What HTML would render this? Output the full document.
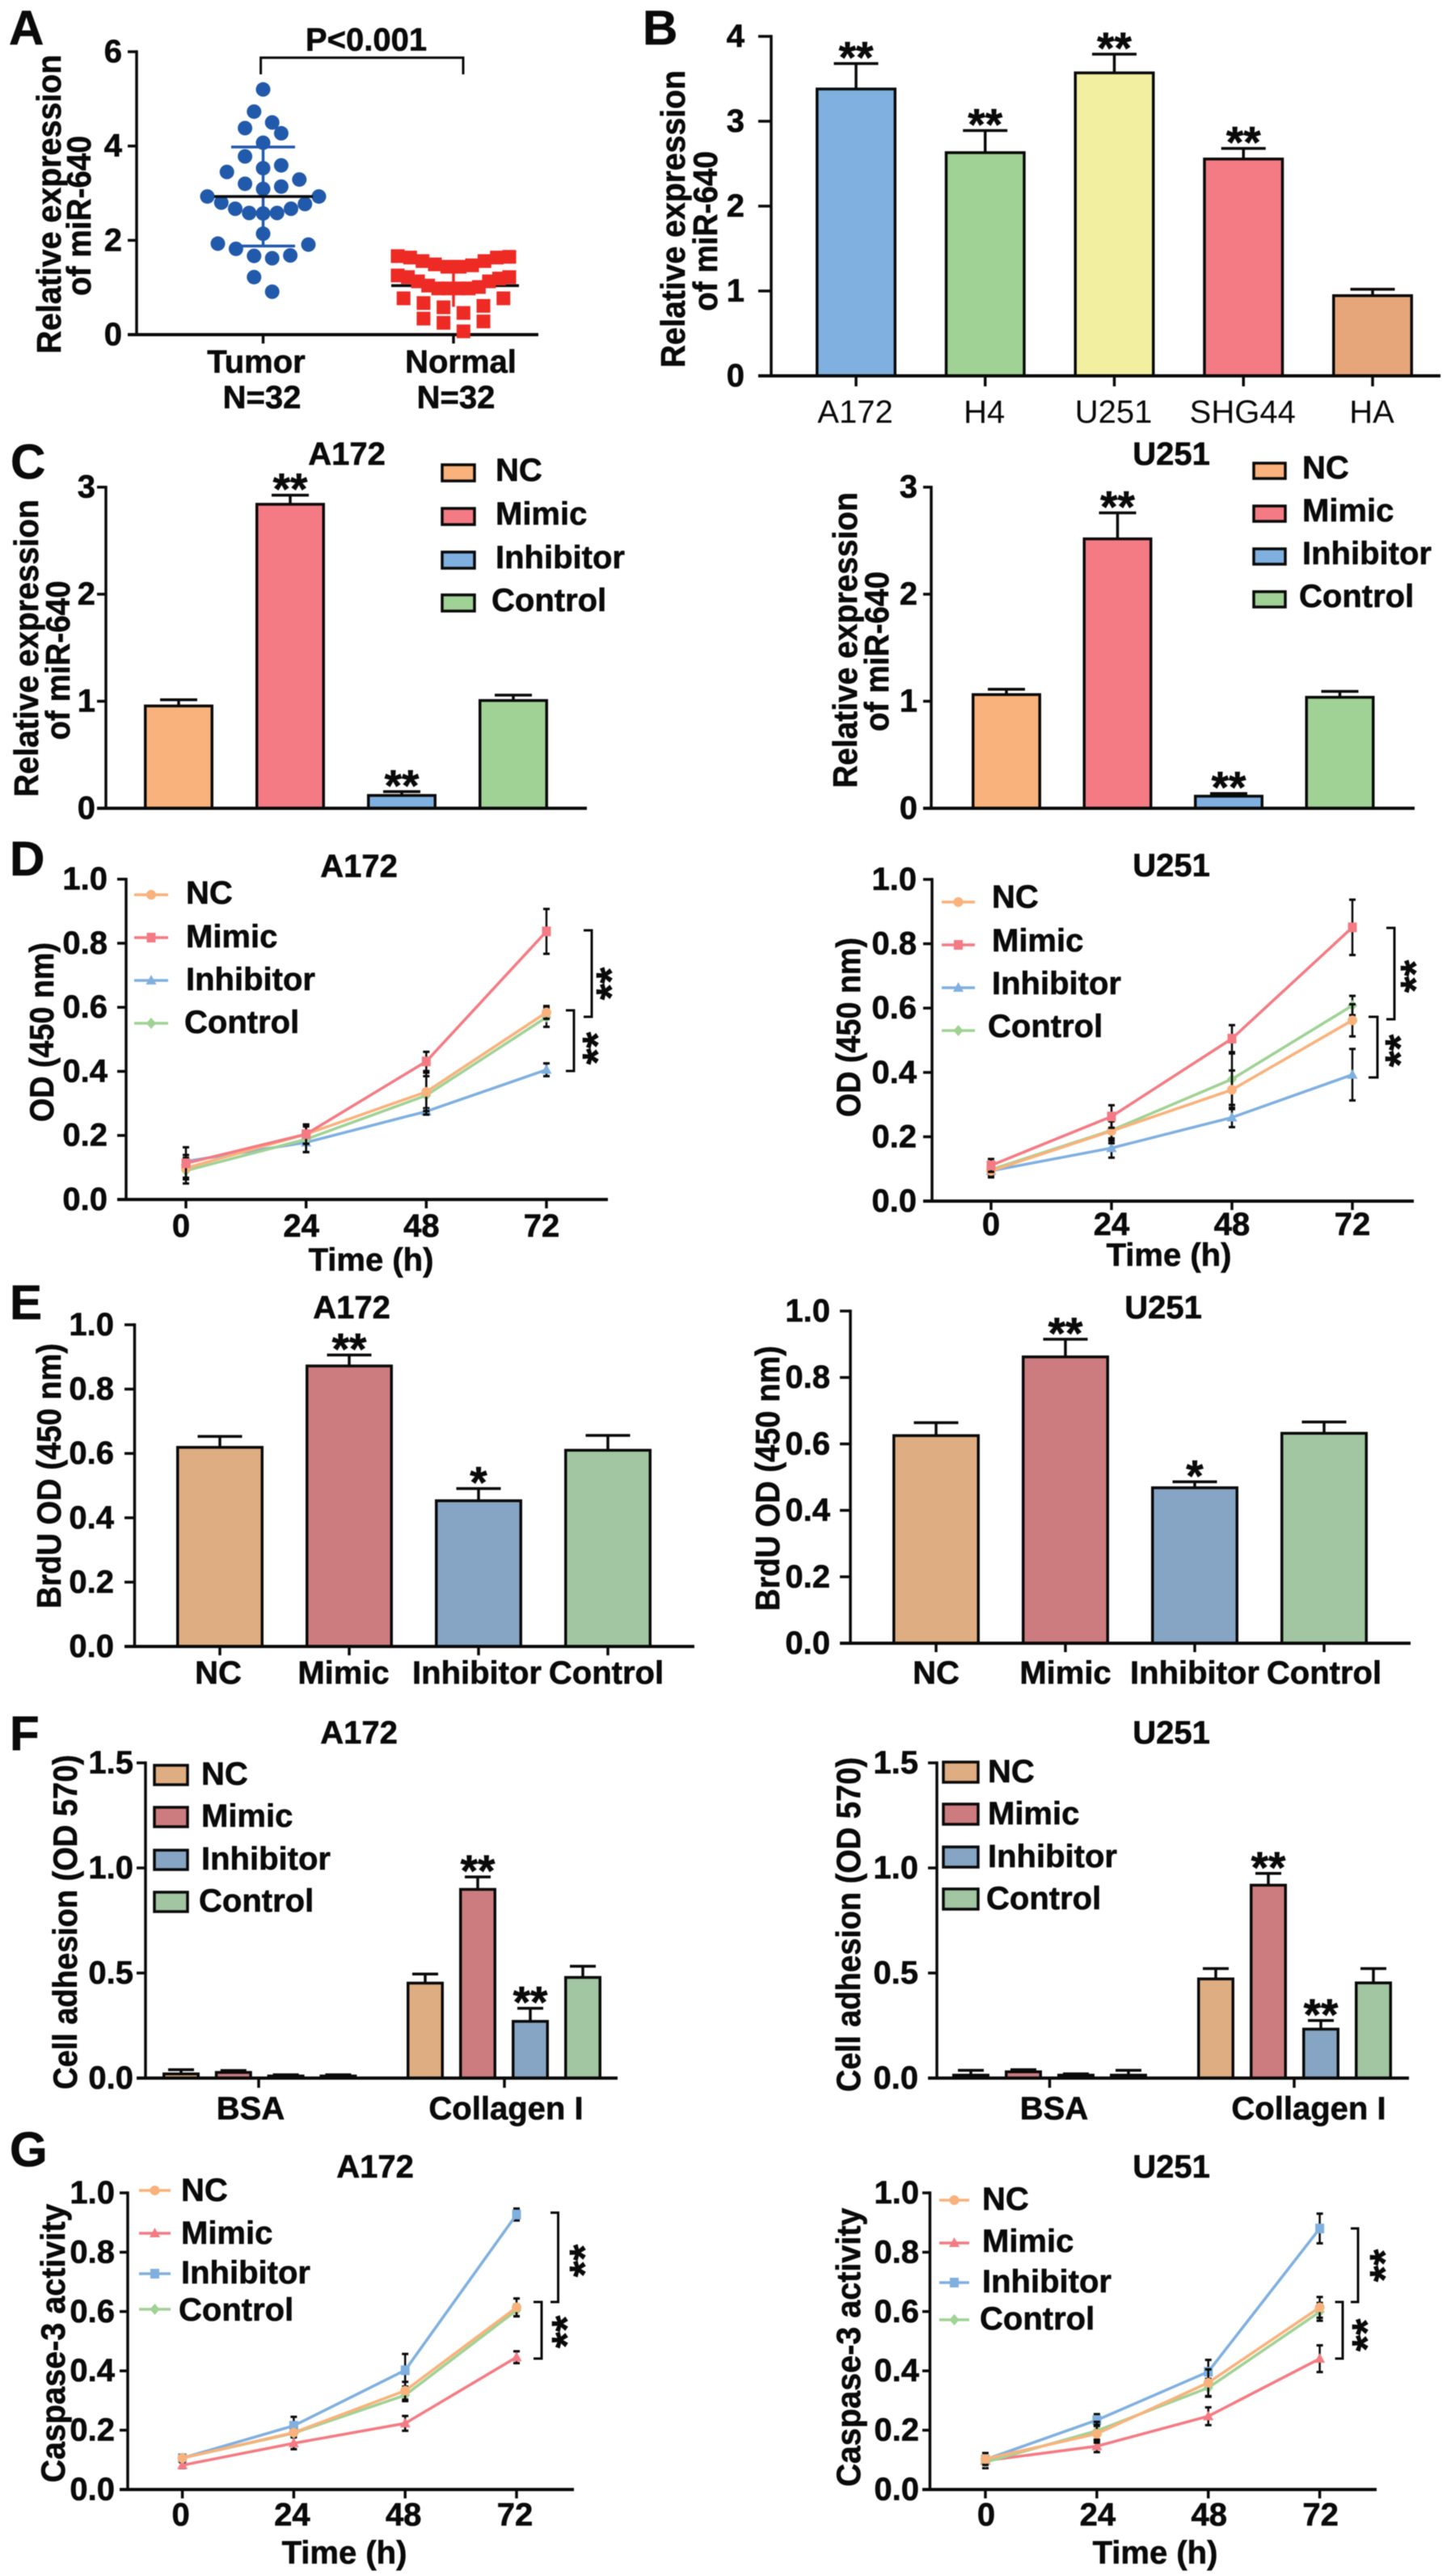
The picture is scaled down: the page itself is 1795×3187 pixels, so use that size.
<!DOCTYPE html>
<html lang="en">
<head>
<meta charset="utf-8">
<title>miR-640 expression figure</title>
<style>
html,body{margin:0;padding:0;background:#fff;}
svg{display:block;font-family:"Liberation Sans",Arial,sans-serif;filter:blur(.5px);}
</style>
</head>
<body>
<svg id="figure" xmlns="http://www.w3.org/2000/svg" width="1795" height="3187" viewBox="0 0 1795 3187">
<rect x="0" y="0" width="1795" height="3187" fill="#ffffff"></rect>
</svg>
<script>
// ---------- Shared labels ----------
const groupNames = ['NC', 'Mimic', 'Inhibitor', 'Control'];
const timeTicks = ['0', '24', '48', '72'];
const odTicks = ['0.0', '0.2', '0.4', '0.6', '0.8', '1.0'];
const adhesionTicks = ['0.0', '0.5', '1.0', '1.5'];
const exprTicksC = ['0', '1', '2', '3'];
const exprTicksB = ['0', '1', '2', '3', '4'];
const exprTicksA = ['0', '2', '4', '6'];

// ---------- Panel A ----------
const panelACategories = ['Tumor', 'Normal'];
const tumorValues = [5.2, 4.73, 4.5, 4.38, 4.27, 4.07, 3.78, 3.59, 3.53, 3.45, 3.29, 3.2, 3.14, 3.09, 2.93, 2.93, 2.8, 2.77, 2.67, 2.67, 2.58, 2.58, 2.57, 2.14, 1.93, 1.91, 1.82, 1.68, 1.67, 1.62, 1.22, 0.91];
const normalValues = [1.665, 1.65, 1.635, 1.635, 1.56, 1.56, 1.49, 1.47, 1.44, 1.44, 1.255, 1.22, 1.22, 1.19, 1.13, 1.13, 1.04, 1.01, 0.98, 0.98, 0.98, 0.98, 0.77, 0.77, 0.67, 0.61, 0.58, 0.46, 0.34, 0.28, 0.25, 0.07];
const tumorMean = 2.93;
const tumorSd = 1.05;
const normalMean = 1.04;
const normalSd = 0.45;

// ---------- Panel B ----------
const panelBCategories = ['A172', 'H4', 'U251', 'SHG44', 'HA'];
const panelBValues = [3.38, 2.63, 3.57, 2.555, 0.945];
const panelBErrors = [0.30, 0.26, 0.22, 0.125, 0.075];
const panelBStars = ['**', '**', '**', '**', ''];

// ---------- Panel C ----------
const cA172Values = [0.956, 2.84, 0.12, 1.007];
const cA172Errors = [0.058, 0.085, 0.036, 0.05];
const cU251Values = [1.062, 2.517, 0.113, 1.037];
const cU251Errors = [0.05, 0.243, 0.025, 0.055];
const cStars = ['', '**', '**', ''];

// ---------- Panel D ----------
const dA172NC = [0.098, 0.204, 0.336, 0.584];
const dA172Mimic = [0.113, 0.204, 0.431, 0.837];
const dA172Inhibitor = [0.119, 0.178, 0.275, 0.405];
const dA172Control = [0.09, 0.188, 0.325, 0.569];
const dA172NCErr = [0.03, 0.03, 0.06, 0.02];
const dA172MimicErr = [0.05, 0.03, 0.03, 0.07];
const dA172InhibitorErr = [0.02, 0.03, 0.01, 0.02];
const dA172ControlErr = [0.04, 0.04, 0.06, 0.03];
const dU251NC = [0.094, 0.218, 0.346, 0.562];
const dU251Mimic = [0.111, 0.263, 0.505, 0.851];
const dU251Inhibitor = [0.094, 0.165, 0.26, 0.393];
const dU251Control = [0.098, 0.22, 0.379, 0.608];
const dU251NCErr = [0.02, 0.03, 0.06, 0.05];
const dU251MimicErr = [0.02, 0.035, 0.042, 0.086];
const dU251InhibitorErr = [0.02, 0.03, 0.03, 0.08];
const dU251ControlErr = [0.02, 0.04, 0.08, 0.03];

// ---------- Panel E ----------
const eA172Values = [0.619, 0.872, 0.453, 0.61];
const eA172Errors = [0.034, 0.034, 0.038, 0.046];
const eU251Values = [0.625, 0.862, 0.468, 0.632];
const eU251Errors = [0.039, 0.053, 0.018, 0.034];
const eStars = ['', '**', '*', ''];

// ---------- Panel F ----------
const fCategories = ['BSA', 'Collagen I'];
const fA172BsaValues = [0.02, 0.027, 0.01, 0.01];
const fA172BsaErrors = [0.02, 0.009, 0.006, 0.006];
const fA172CollagenValues = [0.452, 0.898, 0.27, 0.479];
const fA172CollagenErrors = [0.043, 0.059, 0.062, 0.053];
const fU251BsaValues = [0.014, 0.03, 0.014, 0.014];
const fU251BsaErrors = [0.023, 0.01, 0.006, 0.023];
const fU251CollagenValues = [0.472, 0.918, 0.233, 0.453];
const fU251CollagenErrors = [0.049, 0.056, 0.041, 0.068];
const fBsaStars = ['', '', '', ''];
const fCollagenStars = ['', '**', '**', ''];

// ---------- Panel G ----------
const gA172NC = [0.106, 0.192, 0.333, 0.614];
const gA172Mimic = [0.082, 0.156, 0.223, 0.446];
const gA172Inhibitor = [0.106, 0.215, 0.402, 0.927];
const gA172Control = [0.106, 0.19, 0.318, 0.604];
const gA172NCErr = [0.01, 0.01, 0.03, 0.03];
const gA172MimicErr = [0.01, 0.02, 0.025, 0.02];
const gA172InhibitorErr = [0.01, 0.03, 0.055, 0.02];
const gA172ControlErr = [0.01, 0.01, 0.02, 0.02];
const gU251NC = [0.103, 0.188, 0.36, 0.614];
const gU251Mimic = [0.097, 0.146, 0.247, 0.441];
const gU251Inhibitor = [0.101, 0.234, 0.397, 0.88];
const gU251Control = [0.092, 0.198, 0.343, 0.599];
const gU251NCErr = [0.02, 0.03, 0.045, 0.035];
const gU251MimicErr = [0.01, 0.02, 0.03, 0.045];
const gU251InhibitorErr = [0.01, 0.02, 0.04, 0.05];
const gU251ControlErr = [0.02, 0.03, 0.03, 0.03];

// ---------- Palettes ----------
const brightColors = ['#F9B27B', '#F47B83', '#7FB0E0', '#A0D295'];
const mutedColors = ['#DFAD82', '#CC7C7E', '#86A5C4', '#A2C5A2'];
const panelBColors = ['#7FB0E0', '#A0D295', '#F2EFA0', '#F47B83', '#E6A679'];

// ---------- Primitives ----------
const root = document.getElementById('figure');
const NS = root.namespaceURI;
const STROKE = 3.5;

function mk(tag, parent, geometry) {
  const e = document.createElementNS(NS, tag);
  for (const k in geometry) e.setAttribute(k, geometry[k]);
  parent.appendChild(e);
  return e;
}
function linear(d0, d1, r0, r1) {
  return function (v) { return r0 + (v - d0) / (d1 - d0) * (r1 - r0); };
}
function group(name) {
  const g = mk('g', root, {});
  
  
  return g;
}
function drawLine(parent, x1, y1, x2, y2, width, color, name) {
  const l = mk('line', parent, { x1: x1, y1: y1, x2: x2, y2: y2, stroke: color, 'stroke-width': width });
  
  
  return l;
}
function drawText(parent, x, y, str, size, anchor, weight, rot, name, length) {
  const t = mk('text', parent, { x: x, y: y, 'font-size': size, 'text-anchor': anchor, 'font-weight': weight, fill: '#0a0a0a' });
  if (weight === 'bold') {
    t.setAttribute('stroke', '#0a0a0a');
    t.setAttribute('stroke-width', '0.6');
  }
  if (rot) t.setAttribute('transform', 'rotate(' + rot + ' ' + x + ' ' + y + ')');
  if (length) {
    t.setAttribute('textLength', length);
    t.setAttribute('lengthAdjust', 'spacingAndGlyphs');
  }
  t.textContent = str;
  
  
  return t;
}
function drawStars(parent, x, bottom, str) {
  if (!str) return;
  drawText(parent, x, bottom + 21, str, 55, 'middle', 'bold', 0, 'significance-stars');
}
function drawStarsVertical(parent, right, yc, str) {
  drawText(parent, right + 19, yc, str, 52, 'middle', 'bold', -90, 'significance-stars');
}
function drawBracket(parent, tipX, x, y1, y2) {
  const p = mk('path', parent, { d: 'M' + tipX + ' ' + y1 + 'H' + x + 'V' + y2 + 'H' + tipX, fill: 'none', stroke: '#0a0a0a', 'stroke-width': 3 });
  
  
}
function drawYAxis(parent, a, yScale, ticks) {
  const top = yScale(parseFloat(ticks[ticks.length - 1]));
  const base = yScale(parseFloat(ticks[0]));
  drawLine(parent, a.x, top - STROKE / 2, a.x, base, STROKE, '#0a0a0a', 'y-axis');
  drawLine(parent, a.left, base, a.end, base, STROKE + 0.5, '#0a0a0a', 'x-axis');
  ticks.forEach(function (label) {
    const y = yScale(parseFloat(label));
    drawLine(parent, a.left, y, a.x, y, STROKE, '#0a0a0a', 'y-tick');
    drawText(parent, a.labelRight, y + 13, label, 40, 'end', 'bold', 0, 'y-tick-label');
  });
}
function drawYTitle(parent, lines) {
  lines.forEach(function (l) {
    drawText(parent, l.x, l.y, l.text, 42, 'middle', 'bold', -90, 'y-axis-title', l.len);
  });
}
function drawXTick(parent, x, y0, y1) {
  drawLine(parent, x, y0, x, y1, STROKE, '#0a0a0a', 'x-tick');
}
function drawBar(parent, cx, width, capW, yScale, value, error, color, name) {
  const top = yScale(value);
  const base = yScale(0);
  const hiY = yScale(value + error);
  drawLine(parent, cx, top, cx, hiY, STROKE, '#0a0a0a', name + '-error-bar');
  drawLine(parent, cx - capW / 2, hiY, cx + capW / 2, hiY, STROKE, '#0a0a0a', name + '-error-cap');
  const r = mk('rect', parent, { x: cx - width / 2 + STROKE / 2, y: top, width: width - STROKE, height: Math.max(0, base - top), fill: color, stroke: '#0a0a0a', 'stroke-width': STROKE });
  
  
}
function drawBars(parent, xOf, width, capW, yScale, values, errors, stars, colors, names) {
  values.forEach(function (v, i) {
    drawBar(parent, xOf(i), width, capW, yScale, v, errors[i], colors[i], 'bar-' + names[i].toLowerCase());
    drawStars(parent, xOf(i), yScale(v + errors[i]) - 10, stars[i]);
  });
}
function drawBarLegend(parent, c, colors) {
  groupNames.forEach(function (n, i) {
    const s = mk('rect', parent, { x: c.x, y: c.rows[i], width: c.w, height: c.h, fill: colors[i], stroke: '#0a0a0a', 'stroke-width': 3.5 });
    
    
    const lx = n === 'Control' ? c.controlX : c.labelX;
    drawText(parent, lx, c.rows[i] + c.h + (c.dy || 0), n, 40, 'start', 'bold', 0, 'legend-label-' + n.toLowerCase());
  });
}
function drawMarker(parent, shape, x, y, color, name) {
  let m;
  if (shape === 'circle') {
    m = mk('circle', parent, { cx: x, cy: y, r: 6, fill: color });
  } else if (shape === 'square') {
    m = mk('rect', parent, { x: x - 5.5, y: y - 6, width: 11, height: 12, fill: color });
  } else if (shape === 'triangle') {
    m = mk('path', parent, { d: 'M' + x + ' ' + (y - 7) + 'L' + (x + 6.5) + ' ' + (y + 5) + 'L' + (x - 6.5) + ' ' + (y + 5) + 'Z', fill: color });
  } else {
    m = mk('path', parent, { d: 'M' + x + ' ' + (y - 7) + 'L' + (x + 6) + ' ' + y + 'L' + x + ' ' + (y + 7) + 'L' + (x - 6) + ' ' + y + 'Z', fill: color });
  }
  
  
}
function drawSeries(parent, s, xScale, yScale) {
  const pts = s.values.map(function (v, i) {
    return xScale(parseFloat(timeTicks[i])) + ',' + yScale(v);
  }).join(' ');
  s.values.forEach(function (v, i) {
    const x = xScale(parseFloat(timeTicks[i]));
    const hi = yScale(v + s.errors[i]);
    const lo = yScale(v - s.errors[i]);
    drawLine(parent, x, hi, x, lo, 2.5, '#0a0a0a', 'error-bar-' + s.name.toLowerCase());
    drawLine(parent, x - 4, hi, x + 4, hi, 3, '#0a0a0a', 'error-cap-' + s.name.toLowerCase());
    drawLine(parent, x - 4, lo, x + 4, lo, 3, '#0a0a0a', 'error-cap-' + s.name.toLowerCase());
  });
  const line = mk('polyline', parent, { points: pts, fill: 'none', stroke: s.color, 'stroke-width': 3.5, 'stroke-linejoin': 'round' });
  
  
  s.values.forEach(function (v, i) {
    drawMarker(parent, s.shape, xScale(parseFloat(timeTicks[i])), yScale(v), s.color, 'point-' + s.name.toLowerCase());
  });
}
function drawLineLegend(parent, c, shapes) {
  groupNames.forEach(function (n, i) {
    drawLine(parent, c.x1, c.rows[i], c.x2, c.rows[i], 3.5, brightColors[i], 'legend-line-' + n.toLowerCase());
    drawMarker(parent, shapes[i], (c.x1 + c.x2) / 2, c.rows[i], brightColors[i], 'legend-marker-' + n.toLowerCase());
    const lx = n === 'Control' ? c.controlX : c.labelX;
    drawText(parent, lx, c.baselines[i], n, 40, 'start', 'bold', 0, 'legend-label-' + n.toLowerCase());
  });
}
function linePanel(cfg) {
  const g = group(cfg.name);
  const yScale = linear(0, 1, cfg.base, cfg.top);
  const xScale = linear(0, 72, cfg.x0, cfg.x72);
  drawYAxis(g, cfg.axis, yScale, odTicks);
  timeTicks.forEach(function (t) {
    const x = xScale(parseFloat(t));
    drawXTick(g, x, cfg.base, cfg.base + 11);
    drawText(g, x + cfg.tickShift, cfg.tickBaseline, t, 40, 'middle', 'bold', 0, 'x-tick-label');
  });
  cfg.series.forEach(function (s) { drawSeries(g, s, xScale, yScale); });
  drawLineLegend(g, cfg.legend, cfg.shapes);
  drawText(g, cfg.titleX, cfg.titleY, cfg.title, 40, 'middle', 'bold', 0, 'panel-title');
  drawText(g, cfg.timeX, cfg.timeY, 'Time (h)', 40, 'middle', 'bold', 0, 'x-axis-title');
  drawYTitle(g, cfg.yTitle);
  cfg.brackets.forEach(function (b) {
    drawBracket(g, b.tip, b.x, b.y1, b.y2);
    drawStarsVertical(g, b.starRight, b.starY, '**');
  });
}
function binnedSwarm(values, cfg) {
  const bins = {};
  values.forEach(function (v, i) {
    const b = Math.floor((Math.max(v, cfg.floor) - cfg.offset) / cfg.width);
    (bins[b] = bins[b] || []).push(i);
  });
  const out = values.map(function () { return 0; });
  Object.keys(bins).forEach(function (b) {
    const idx = bins[b].slice().sort(function (p, q) { return values[q] - values[p]; });
    const n = idx.length;
    const step = n > 1 ? Math.min(cfg.maxStep, cfg.maxSpan / (n - 1)) : 0;
    let left = 0;
    let right = n - 1;
    idx.forEach(function (id, k) {
      const slot = k % 2 === 0 ? left++ : right--;
      out[id] = (slot - (n - 1) / 2) * step;
    });
  });
  return out;
}

// ---------- Panel letters ----------
(function () {
  const g = group('panel-letters');
  drawText(g, 11, 55, 'A', 60, 'start', 'bold', 0, 'panel-letter-a');
  drawText(g, 795, 55, 'B', 60, 'start', 'bold', 0, 'panel-letter-b');
  drawText(g, 13, 592, 'C', 60, 'start', 'bold', 0, 'panel-letter-c');
  drawText(g, 12, 1083, 'D', 60, 'start', 'bold', 0, 'panel-letter-d');
  drawText(g, 12, 1632, 'E', 60, 'start', 'bold', 0, 'panel-letter-e');
  drawText(g, 12, 2165, 'F', 60, 'start', 'bold', 0, 'panel-letter-f');
  drawText(g, 12, 2680, 'G', 60, 'start', 'bold', 0, 'panel-letter-g');
})();

// ---------- Panel A draw ----------
(function () {
  const g = group('panel-a-scatter');
  const yScale = linear(0, 6, 414, 64);
  const tumorX = 325.5;
  const normalX = 561;
  drawYAxis(g, { x: 169, left: 158, end: 666, labelRight: 151 }, yScale, exprTicksA);
  drawXTick(g, tumorX, 414, 425);
  drawXTick(g, normalX, 414, 425);
  drawYTitle(g, [
    { x: 75, y: 252.6, text: 'Relative expression', len: 370 },
    { x: 112, y: 267, text: 'of miR-640', len: 198 }
  ]);
  drawText(g, 317, 461, panelACategories[0], 40, 'middle', 'bold', 0, 'x-tick-label');
  drawText(g, 570, 461, panelACategories[1], 40, 'middle', 'bold', 0, 'x-tick-label');
  drawText(g, 324, 505, 'N=32', 40, 'middle', 'bold', 0, 'x-sample-size');
  drawText(g, 564, 505, 'N=32', 40, 'middle', 'bold', 0, 'x-sample-size');
  drawText(g, 453, 62.5, 'P<0.001', 40, 'middle', 'bold', 0, 'p-value-label');
  const b = mk('path', g, { d: 'M322.6 92V71.4H573V92', fill: 'none', stroke: '#0a0a0a', 'stroke-width': 3 });
  
  

  drawLine(g, tumorX, yScale(tumorMean + tumorSd), tumorX, yScale(tumorMean - tumorSd), 3.5, '#2159AB', 'tumor-sd-line');
  drawLine(g, 286, yScale(tumorMean + tumorSd), 365, yScale(tumorMean + tumorSd), 3.5, '#2159AB', 'tumor-sd-cap');
  drawLine(g, 286, yScale(tumorMean - tumorSd), 365, yScale(tumorMean - tumorSd), 3.5, '#2159AB', 'tumor-sd-cap');
  drawLine(g, normalX, yScale(normalMean + normalSd), normalX, yScale(normalMean - normalSd), 3.5, '#EE2A24', 'normal-sd-line');
  drawLine(g, 484, yScale(normalMean), 642, yScale(normalMean), 3.5, '#0a0a0a', 'normal-mean-line');

  const tumorOffsets = binnedSwarm(tumorValues, { width: 0.5, offset: 0, floor: 1, maxStep: 22.4, maxSpan: 138 });
  tumorValues.forEach(function (v, i) {
    const c = mk('circle', g, { cx: tumorX + tumorOffsets[i], cy: yScale(v), r: 9, fill: '#2159AB' });
    
    
  });
  const normalOffsets = binnedSwarm(normalValues, { width: 0.5, offset: 0.4, floor: 0, maxStep: 24.7, maxSpan: 138 });
  normalValues.forEach(function (v, i) {
    const s = mk('rect', g, { x: normalX + normalOffsets[i] - 8.5, y: yScale(v) - 8.5, width: 17, height: 17, fill: '#EE2A24' });
    
    
  });
  drawLine(g, 265, yScale(tumorMean), 387, yScale(tumorMean), 3.5, '#0a0a0a', 'tumor-mean-line');
})();

// ---------- Panel B draw ----------
(function () {
  const g = group('panel-b-bars');
  const yScale = linear(0, 4, 465, 45);
  const xOf = function (i) { return 1059 + i * 159.75; };
  drawBars(g, xOf, 100, 55, yScale, panelBValues, panelBErrors, panelBStars, panelBColors, panelBCategories);
  drawYAxis(g, { x: 954, left: 938, end: 1782, labelRight: 921 }, yScale, exprTicksB);
  panelBCategories.forEach(function (c, i) {
    drawXTick(g, xOf(i), 465, 478);
    drawText(g, xOf(i) - 1, 523, c, 40, 'middle', 'normal', 0, 'x-tick-label');
  });
  drawYTitle(g, [
    { x: 847, y: 271, text: 'Relative expression', len: 368 },
    { x: 887, y: 286, text: 'of miR-640', len: 198 }
  ]);
})();

// ---------- Panel C draw ----------
(function () {
  const g = group('panel-c-a172');
  const yScale = linear(0, 3, 1000, 602.7);
  const xOf = function (i) { return 221 + i * 138; };
  drawBars(g, xOf, 86, 46, yScale, cA172Values, cA172Errors, cStars, brightColors, groupNames);
  drawYAxis(g, { x: 131, left: 120, end: 726, labelRight: 118 }, yScale, exprTicksC);
  drawText(g, 429, 575, 'A172', 40, 'middle', 'bold', 0, 'panel-title');
  drawBarLegend(g, { x: 547, w: 40, h: 20, rows: [575, 629, 683, 736], labelX: 613, controlX: 608 }, brightColors);
  drawYTitle(g, [
    { x: 47, y: 802, text: 'Relative expression', len: 368 },
    { x: 86, y: 817, text: 'of miR-640', len: 197 }
  ]);
})();
(function () {
  const g = group('panel-c-u251');
  const yScale = linear(0, 3, 1000, 602.7);
  const xOf = function (i) { return 1245 + i * 137.5; };
  drawBars(g, xOf, 86, 46, yScale, cU251Values, cU251Errors, cStars, brightColors, groupNames);
  drawYAxis(g, { x: 1152, left: 1142, end: 1750, labelRight: 1135 }, yScale, exprTicksC);
  drawText(g, 1449, 575, 'U251', 40, 'middle', 'bold', 0, 'panel-title');
  drawBarLegend(g, { x: 1551, w: 39, h: 19, rows: [573, 626, 679, 732], labelX: 1611, controlX: 1607 }, brightColors);
  drawYTitle(g, [
    { x: 1060, y: 792, text: 'Relative expression', len: 366 },
    { x: 1099, y: 806, text: 'of miR-640', len: 198 }
  ]);
})();

// ---------- Panel D draw ----------
const lineShapesD = ['circle', 'square', 'triangle', 'diamond'];
linePanel({
  name: 'panel-d-a172', title: 'A172', titleX: 444, titleY: 1085,
  base: 1484, top: 1087.7, x0: 230, x72: 676, tickBaseline: 1530, tickShift: -6,
  timeX: 459, timeY: 1572,
  axis: { x: 156, left: 145, end: 752, labelRight: 133 },
  shapes: lineShapesD,
  series: [
    { name: 'Inhibitor', values: dA172Inhibitor, errors: dA172InhibitorErr, color: brightColors[2], shape: 'triangle' },
    { name: 'Control', values: dA172Control, errors: dA172ControlErr, color: brightColors[3], shape: 'diamond' },
    { name: 'NC', values: dA172NC, errors: dA172NCErr, color: brightColors[0], shape: 'circle' },
    { name: 'Mimic', values: dA172Mimic, errors: dA172MimicErr, color: brightColors[1], shape: 'square' }
  ],
  legend: { x1: 166, x2: 208, rows: [1107, 1160, 1213, 1266], labelX: 230, controlX: 228, baselines: [1118, 1172, 1225, 1278] },
  yTitle: [{ x: 66, y: 1277, text: 'OD (450 nm)', len: 222 }],
  brackets: [
    { tip: 722, x: 732, y1: 1151, y2: 1258, starRight: 755, starY: 1217 },
    { tip: 700, x: 710, y1: 1250, y2: 1325, starRight: 738, starY: 1297 }
  ]
});
linePanel({
  name: 'panel-d-u251', title: 'U251', titleX: 1449, titleY: 1084,
  base: 1486, top: 1088, x0: 1226, x72: 1673, tickBaseline: 1528, tickShift: 0,
  timeX: 1446, timeY: 1566,
  axis: { x: 1153, left: 1142, end: 1749, labelRight: 1134 },
  shapes: lineShapesD,
  series: [
    { name: 'Inhibitor', values: dU251Inhibitor, errors: dU251InhibitorErr, color: brightColors[2], shape: 'triangle' },
    { name: 'Control', values: dU251Control, errors: dU251ControlErr, color: brightColors[3], shape: 'diamond' },
    { name: 'NC', values: dU251NC, errors: dU251NCErr, color: brightColors[0], shape: 'circle' },
    { name: 'Mimic', values: dU251Mimic, errors: dU251MimicErr, color: brightColors[1], shape: 'square' }
  ],
  legend: { x1: 1165, x2: 1206, rows: [1116, 1169, 1222, 1275], labelX: 1227, controlX: 1222, baselines: [1123, 1177, 1230, 1283] },
  yTitle: [{ x: 1064, y: 1271, text: 'OD (450 nm)', len: 222 }],
  brackets: [
    { tip: 1715, x: 1725, y1: 1148, y2: 1261, starRight: 1750, starY: 1208 },
    { tip: 1693, x: 1704, y1: 1258, y2: 1333, starRight: 1731, starY: 1300 }
  ]
});

// ---------- Panel E draw ----------
(function () {
  const g = group('panel-e-a172');
  const yScale = linear(0, 1, 2037, 1639);
  const xOf = function (i) { return 272 + i * 160; };
  const labelCenter = function (i) { return xOf(i) - (i === 1 ? 7 : 2); };
  drawBars(g, xOf, 108, 55, yScale, eA172Values, eA172Errors, eStars, mutedColors, groupNames);
  drawYAxis(g, { x: 166.5, left: 154, end: 859, labelRight: 141 }, yScale, odTicks);
  groupNames.forEach(function (n, i) {
    drawXTick(g, xOf(i), 2037, 2048);
    drawText(g, labelCenter(i), 2083, n, 40, 'middle', 'bold', 0, 'x-tick-label');
  });
  drawText(g, 435, 1631, 'A172', 40, 'middle', 'bold', 0, 'panel-title');
  drawYTitle(g, [{ x: 75, y: 1826, text: 'BrdU OD (450 nm)', len: 328 }]);
})();
(function () {
  const g = group('panel-e-u251');
  const yScale = linear(0, 1, 2033, 1622);
  const xOf = function (i) { return 1158 + i * 160; };
  drawBars(g, xOf, 108, 55, yScale, eU251Values, eU251Errors, eStars, mutedColors, groupNames);
  drawYAxis(g, { x: 1052, left: 1039, end: 1745, labelRight: 1027 }, yScale, odTicks);
  groupNames.forEach(function (n, i) {
    drawXTick(g, xOf(i), 2033, 2044);
    drawText(g, xOf(i), 2083, n, 40, 'middle', 'bold', 0, 'x-tick-label');
  });
  drawText(g, 1439, 1631, 'U251', 40, 'middle', 'bold', 0, 'panel-title');
  drawYTitle(g, [{ x: 964, y: 1829, text: 'BrdU OD (450 nm)', len: 328 }]);
})();

// ---------- Panel F draw ----------
(function () {
  const g = group('panel-f-a172');
  const yScale = linear(0, 1.5, 2571, 2181);
  const xBsa = function (i) { return 224 + i * 64.8; };
  const xCol = function (i) { return 526 + i * 65; };
  drawBars(g, xBsa, 46, 32, yScale, fA172BsaValues, fA172BsaErrors, fBsaStars, mutedColors, groupNames);
  drawBars(g, xCol, 46, 32, yScale, fA172CollagenValues, fA172CollagenErrors, fCollagenStars, mutedColors, groupNames);
  drawYAxis(g, { x: 180, left: 169, end: 764, labelRight: 165 }, yScale, adhesionTicks);
  drawXTick(g, 320, 2571, 2583);
  drawXTick(g, 624, 2571, 2583);
  drawText(g, 310, 2622, fCategories[0], 40, 'middle', 'bold', 0, 'x-tick-label');
  drawText(g, 626, 2622, fCategories[1], 40, 'middle', 'bold', 0, 'x-tick-label');
  drawText(g, 444, 2157, 'A172', 40, 'middle', 'bold', 0, 'panel-title');
  drawBarLegend(g, { x: 191, w: 41, h: 24, rows: [2184, 2236, 2289, 2341], labelX: 249, controlX: 246 }, mutedColors);
  drawYTitle(g, [{ x: 95, y: 2378, text: 'Cell adhesion (OD 570)', len: 414 }]);
})();
(function () {
  const g = group('panel-f-u251');
  const yScale = linear(0, 1.5, 2571, 2181);
  const xBsa = function (i) { return 1201 + i * 65; };
  const xCol = function (i) { return 1504 + i * 65; };
  drawBars(g, xBsa, 46, 32, yScale, fU251BsaValues, fU251BsaErrors, fBsaStars, mutedColors, groupNames);
  drawBars(g, xCol, 46, 32, yScale, fU251CollagenValues, fU251CollagenErrors, fCollagenStars, mutedColors, groupNames);
  drawYAxis(g, { x: 1159, left: 1148, end: 1743, labelRight: 1136 }, yScale, adhesionTicks);
  drawXTick(g, 1298.5, 2571, 2583);
  drawXTick(g, 1601, 2571, 2583);
  drawText(g, 1304, 2622, fCategories[0], 40, 'middle', 'bold', 0, 'x-tick-label');
  drawText(g, 1619, 2622, fCategories[1], 40, 'middle', 'bold', 0, 'x-tick-label');
  drawText(g, 1449, 2157, 'U251', 40, 'middle', 'bold', 0, 'panel-title');
  drawBarLegend(g, { x: 1167, w: 43, h: 25, rows: [2180, 2232, 2285, 2337], labelX: 1222, controlX: 1220 }, mutedColors);
  drawYTitle(g, [{ x: 1064, y: 2381, text: 'Cell adhesion (OD 570)', len: 414 }]);
})();

// ---------- Panel G draw ----------
const lineShapesG = ['circle', 'triangle', 'square', 'diamond'];
linePanel({
  name: 'panel-g-a172', title: 'A172', titleX: 464, titleY: 2694,
  base: 3080, top: 2713, x0: 225.6, x72: 639, tickBaseline: 3124.5, tickShift: -2,
  timeX: 426, timeY: 3171.5,
  axis: { x: 158, left: 148, end: 710, labelRight: 142 },
  shapes: lineShapesG,
  series: [
    { name: 'Inhibitor', values: gA172Inhibitor, errors: gA172InhibitorErr, color: brightColors[2], shape: 'square' },
    { name: 'Mimic', values: gA172Mimic, errors: gA172MimicErr, color: brightColors[1], shape: 'triangle' },
    { name: 'Control', values: gA172Control, errors: gA172ControlErr, color: brightColors[3], shape: 'diamond' },
    { name: 'NC', values: gA172NC, errors: gA172NCErr, color: brightColors[0], shape: 'circle' }
  ],
  legend: { x1: 172, x2: 211, rows: [2710, 2763, 2813, 2857], labelX: 224, controlX: 221, baselines: [2723, 2776, 2825, 2871] },
  yTitle: [{ x: 80, y: 2899, text: 'Caspase-3 activity', len: 345 }],
  brackets: [
    { tip: 681, x: 690.5, y1: 2737.5, y2: 2848, starRight: 722, starY: 2797 },
    { tip: 660, x: 670, y1: 2848, y2: 2918, starRight: 700, starY: 2885 }
  ]
});
linePanel({
  name: 'panel-g-u251', title: 'U251', titleX: 1449, titleY: 2694,
  base: 3080, top: 2713, x0: 1219, x72: 1632.6, tickBaseline: 3124.5, tickShift: 1,
  timeX: 1429, timeY: 3171.5,
  axis: { x: 1150.4, left: 1141, end: 1703, labelRight: 1137 },
  shapes: lineShapesG,
  series: [
    { name: 'Inhibitor', values: gU251Inhibitor, errors: gU251InhibitorErr, color: brightColors[2], shape: 'square' },
    { name: 'Mimic', values: gU251Mimic, errors: gU251MimicErr, color: brightColors[1], shape: 'triangle' },
    { name: 'Control', values: gU251Control, errors: gU251ControlErr, color: brightColors[3], shape: 'diamond' },
    { name: 'NC', values: gU251NC, errors: gU251NCErr, color: brightColors[0], shape: 'circle' }
  ],
  legend: { x1: 1162, x2: 1199, rows: [2722, 2775, 2824, 2870], labelX: 1215, controlX: 1212, baselines: [2734, 2786, 2836, 2882] },
  yTitle: [{ x: 1064, y: 2904, text: 'Caspase-3 activity', len: 345 }],
  brackets: [
    { tip: 1671, x: 1680, y1: 2757, y2: 2848, starRight: 1712, starY: 2803 },
    { tip: 1651.6, x: 1661, y1: 2848, y2: 2918, starRight: 1690, starY: 2889 }
  ]
});
</script>
</body>
</html>
